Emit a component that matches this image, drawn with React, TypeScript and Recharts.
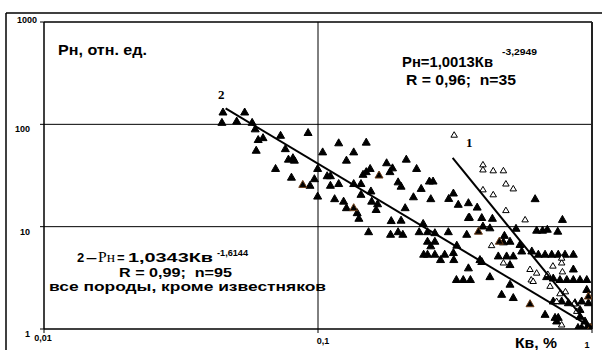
import {
  ReferenceLine,
  Scatter,
  ScatterChart,
  XAxis,
  YAxis,
} from "recharts";

// Кв, % and Рн for all rocks except limestones (series 2, filled markers)
const kvSolid = [
  0.045, 0.054, 0.0446, 0.0505, 0.0575, 0.059, 0.073, 0.092, 0.0605, 0.063,
  0.0595, 0.076, 0.104, 0.119, 0.078, 0.081, 0.082, 0.07, 0.0997, 0.08,
  0.097, 0.108, 0.111, 0.0935, 0.111, 0.119, 0.0997, 0.115, 0.15, 0.135,
  0.127, 0.21, 0.178, 0.229, 0.187, 0.183, 0.155, 0.15, 0.146, 0.196,
  0.201, 0.255, 0.263, 0.135, 0.1435, 0.238, 0.156, 0.1435, 0.124, 0.157,
  0.223, 0.258, 0.312, 0.3, 0.325, 0.165, 0.163, 0.127, 0.139, 0.141,
  0.208, 0.185, 0.201, 0.242, 0.153, 0.184, 0.196, 0.204, 0.234, 0.251,
  0.267, 0.299, 0.349, 0.354, 0.62, 0.354, 0.381, 0.357, 0.396, 0.433,
  0.78, 0.4, 0.424, 0.528, 0.628, 0.66, 0.687, 0.75, 0.479, 0.475,
  0.502, 0.546, 0.554, 0.603, 0.637, 0.674, 0.713, 0.753, 0.797, 0.855,
  0.455, 0.488, 0.516, 0.502, 0.396, 0.354, 0.32, 0.339, 0.36, 0.424,
  0.855, 0.683, 0.722, 0.764, 0.809, 0.855, 0.904, 0.957, 0.957, 0.502,
  0.468, 0.516, 0.722, 0.775, 0.82, 0.867, 0.917, 0.97, 0.904, 0.674,
  0.733, 0.753, 0.743, 0.904, 0.943, 0.889, 0.917, 0.957, 0.983, 0.251,
  0.267, 0.258, 0.243, 0.251, 0.267, 0.29, 0.312, 0.28, 0.313, 0.321,
  0.39,
];
const pnSolid = [
  130, 130, 103, 106, 103, 89, 77, 82, 70, 73,
  55, 57, 53, 65, 45, 46.5, 44, 36.5, 36.5, 30,
  29, 31, 31, 25, 25, 26, 19.6, 18.5, 66, 53,
  44, 45, 41.5, 36.5, 37, 34, 36.5, 34, 32, 27,
  24.5, 27.5, 27.5, 26, 26, 23.3, 22, 20.4, 17.5, 17.5,
  19.3, 18.5, 21, 18.6, 16.3, 16.5, 14.5, 15.1, 13.5, 11.9,
  15.1, 11.3, 11.4, 10.6, 8.8, 8.3, 8.8, 8.3, 8.8, 8.8,
  8.6, 8.8, 8.3, 12.1, 18.5, 16.9, 15.3, 12.2, 12.1, 11.9,
  11.6, 10, 9.6, 9.5, 9.1, 9.1, 9.3, 8.9, 8.1, 7.0,
  7.1, 6.6, 5.7, 5.7, 5.3, 5.3, 5.3, 5.3, 5.3, 5.3,
  5.1, 5.1, 5.1, 4.2, 4.5, 3.9, 3.0, 3.0, 3.0, 3.2,
  3.8, 3.2, 3.1, 3.0, 3.0, 3.0, 3.0, 3.0, 2.4, 2.7,
  2.15, 2.0, 1.85, 1.85, 1.78, 1.78, 1.85, 1.78, 1.53, 1.37,
  1.28, 1.28, 1.18, 1.31, 1.18, 1.02, 1.02, 1.02, 1.02, 7.1,
  7.1, 6.4, 5.3, 5.3, 5.3, 5.3, 5.5, 4.7, 4.7, 6.5,
  4.7,
];

// filled markers with a brownish edge
const kvBrown = [0.088, 0.167, 0.135, 0.385, 0.459, 0.97, 0.594, 0.99];
const pnBrown = [25.5, 31.5, 15.1, 8.9, 7.1, 2.07, 1.74, 1.02];

// limestones (series 1, open markers)
const kvOpen = [
  0.314, 0.4, 0.4, 0.436, 0.475, 0.485, 0.516, 0.4, 0.436, 0.485,
  0.57, 0.43, 0.475, 0.594, 0.628, 0.775, 0.775, 0.6, 0.61, 0.703,
  0.764, 0.8, 0.743, 0.88, 0.775, 0.69, 0.72, 0.78, 0.86,
];
const pnOpen = [
  78, 40, 35.7, 35, 35, 26, 23.3, 22.8, 20.4, 14.3,
  11.6, 6.5, 4.4, 3.8, 3.5, 4.4, 4.9, 3.0, 2.9, 2.6,
  2.2, 2.3, 1.85, 1.48, 1.09, 3.4, 4.1, 3.6, 1.75,
];

// regression lines: 1 - Рн=1,0013Кв^-3,2949, 2 - Рн=1,0343Кв^-1,6144
const kvFit1 = [0.31, 1];
const pnFit1 = [47, 1.0];
const kvFit2 = [0.046, 1];
const pnFit2 = [143, 1.03];

const xTicks = [0.01, 0.1, 1];
const yTicks = [1, 10, 100, 1000];

const toPoints = (kv: number[], pn: number[]) =>
  kv.map((x, i) => ({ kv: x, pn: pn[i] }));

const solidPoints = toPoints(kvSolid, pnSolid);
const brownPoints = toPoints(kvBrown, pnBrown);
const openPoints = toPoints(kvOpen, pnOpen);
const fit1 = toPoints(kvFit1, pnFit1);
const fit2 = toPoints(kvFit2, pnFit2);

const SANS = "'Liberation Sans', Arial, sans-serif";
const SERIF = "'Liberation Serif', 'Times New Roman', serif";

function Triangle({
  cx,
  cy,
  w,
  h,
  fill,
  stroke,
}: {
  cx?: number;
  cy?: number;
  w: number;
  h: number;
  fill: string;
  stroke: string;
}) {
  if (cx == null || cy == null) return null;
  const pts = `${cx},${cy - (h * 2) / 3} ${cx - w / 2},${cy + h / 3} ${cx + w / 2},${cy + h / 3}`;
  return <polygon points={pts} fill={fill} stroke={stroke} strokeWidth={1} />;
}

function YTick({ x, y, payload }: any) {
  const top = payload.value === 1000;
  return (
    <text
      x={top ? x - 1 : x - 8}
      y={top ? y + 1 : y + 8}
      textAnchor="end"
      fontFamily={SANS}
      fontWeight="bold"
      fontSize={9}
      fill="#000"
    >
      {payload.value}
    </text>
  );
}

function XTick({ x, y, payload }: any) {
  const v = payload.value;
  const dx = v === 0.1 ? 5 : v === 1 ? -5 : -1;
  const dy = v === 0.1 ? 9 : v === 1 ? 13 : 6;
  return (
    <text
      x={x + dx}
      y={y + dy}
      textAnchor="middle"
      fontFamily={SANS}
      fontWeight="bold"
      fontSize={9}
      fill="#000"
    >
      {String(v).replace(".", ",")}
    </text>
  );
}

export default function App() {
  return (
    <div style={{ position: "relative", width: 602, height: 350, background: "#fff" }}>
      <style>{`body{margin:0}`}</style>
      <ScatterChart
        width={602}
        height={350}
        margin={{ top: 22, right: 10, bottom: 0, left: 0 }}
      >
        <XAxis
          type="number"
          dataKey="kv"
          scale="log"
          domain={[0.01, 1]}
          ticks={xTicks}
          height={21}
          tick={<XTick />}
          tickSize={4}
          axisLine={{ stroke: "#000", strokeWidth: 1.5 }}
          tickLine={{ stroke: "#000" }}
          allowDataOverflow
        />
        <YAxis
          type="number"
          dataKey="pn"
          scale="log"
          domain={[1, 1000]}
          ticks={yTicks}
          width={44}
          tick={<YTick />}
          tickSize={4}
          axisLine={{ stroke: "#000", strokeWidth: 1.5 }}
          tickLine={{ stroke: "#000" }}
          allowDataOverflow
        />
        <ReferenceLine y={10} stroke="#000" strokeWidth={1} />
        <ReferenceLine y={100} stroke="#000" strokeWidth={1} />
        <ReferenceLine y={1000} stroke="#000" strokeWidth={1.5} />
        <ReferenceLine x={0.1} stroke="#000" strokeWidth={1} />
        <ReferenceLine x={1} stroke="#222" strokeWidth={2} />
        <Scatter
          data={solidPoints}
          isAnimationActive={false}
          shape={(p: any) => <Triangle cx={p.cx} cy={p.cy} w={8} h={7} fill="#000" stroke="#000" />}
        />
        <Scatter
          data={brownPoints}
          isAnimationActive={false}
          shape={(p: any) => <Triangle cx={p.cx} cy={p.cy} w={8} h={7} fill="#000" stroke="#6b3d18" />}
        />
        <Scatter
          data={openPoints}
          isAnimationActive={false}
          shape={(p: any) => <Triangle cx={p.cx} cy={p.cy} w={6.5} h={5.5} fill="#fff" stroke="#000" />}
        />
        <Scatter
          data={fit1}
          isAnimationActive={false}
          line={{ stroke: "#000", strokeWidth: 2 }}
          shape={() => <g />}
        />
        <Scatter
          data={fit2}
          isAnimationActive={false}
          line={{ stroke: "#000", strokeWidth: 2 }}
          shape={() => <g />}
        />
      </ScatterChart>
      <svg
        width={602}
        height={350}
        style={{ position: "absolute", left: 0, top: 0, pointerEvents: "none" }}
      >
        <line x1={6} y1={13} x2={602} y2={13} stroke="#000" strokeWidth={1.5} />
        <line x1={6} y1={13} x2={6} y2={350} stroke="#000" strokeWidth={1.5} />
        <g fontFamily={SANS} fontWeight="bold" fill="#000">
          <text x={58} y={55} fontSize={14} textLength={89} lengthAdjust="spacingAndGlyphs">
            Рн, отн. ед.
          </text>
          <text x={402} y={67} fontSize={14} textLength={91} lengthAdjust="spacingAndGlyphs">
            Рн=1,0013Кв
          </text>
          <text x={502} y={55} fontSize={9} textLength={35} lengthAdjust="spacingAndGlyphs">
            -3,2949
          </text>
          <text x={406} y={85} fontSize={14} textLength={110} lengthAdjust="spacingAndGlyphs" style={{ whiteSpace: "pre" }}>
            R = 0,96;  n=35
          </text>
          <text x={77} y={262} fontSize={13}>2</text>
          <text x={86} y={262} fontSize={13} textLength={11} lengthAdjust="spacingAndGlyphs">–</text>
          <text x={98} y={262} fontSize={14} fontWeight="normal" fontFamily={SERIF} textLength={17} lengthAdjust="spacingAndGlyphs">
            Рн
          </text>
          <text x={117} y={262} fontSize={13}>=</text>
          <text x={128} y={262} fontSize={13} textLength={85} lengthAdjust="spacingAndGlyphs">
            1,0343Кв
          </text>
          <text x={217} y={256} fontSize={9} textLength={31} lengthAdjust="spacingAndGlyphs">
            -1,6144
          </text>
          <text x={119} y={277} fontSize={13} textLength={113} lengthAdjust="spacingAndGlyphs" style={{ whiteSpace: "pre" }}>
            R = 0,99;  n=95
          </text>
          <text x={49} y={291} fontSize={13} textLength={277} lengthAdjust="spacingAndGlyphs">
            все породы, кроме известняков
          </text>
          <text x={515} y={348} fontSize={15} textLength={42} lengthAdjust="spacingAndGlyphs">
            Кв, %
          </text>
        </g>
        <g fontFamily={SERIF} fontWeight="bold" fill="#000" fontSize={13}>
          <text x={218} y={99}>2</text>
          <text x={466} y={147}>1</text>
        </g>
      </svg>
    </div>
  );
}
